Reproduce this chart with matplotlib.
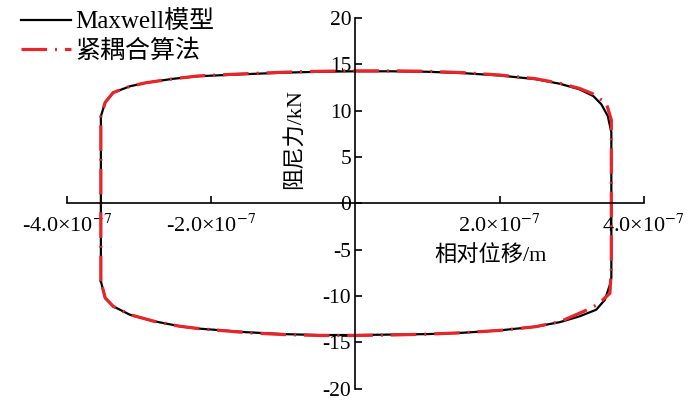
import matplotlib
matplotlib.use('Agg')
import matplotlib.pyplot as plt
import numpy as np

plt.rcParams['font.family'] = ['Liberation Serif', 'Noto Sans CJK SC']
plt.rcParams['mathtext.fontset'] = 'stix'
plt.rcParams['axes.unicode_minus'] = False

# 数据 (位移单位 1e-7 m, 力 kN), 沿滞回环顺时针读取
disp_maxwell = [-3.53, -3.53, -3.53, -3.47, -3.36, -3.12, -2.90, -2.53, -2.18,
                -1.5, -1.0, -0.5, 0.0, 0.5, 1.0, 1.5, 2.0, 2.5,
                2.84, 3.11, 3.30, 3.41, 3.50, 3.55, 3.55, 3.55,
                3.53, 3.46, 3.34, 3.11, 2.84, 2.5, 2.0, 1.5, 1.0, 0.5, 0.0,
                -0.5, -1.0, -1.5, -2.18, -2.43, -2.80, -3.13, -3.36, -3.47, -3.53]
force_maxwell = [-8.4, 0.0, 9.4, 10.9, 11.95, 12.65, 13.02, 13.44, 13.72,
                 13.95, 14.1, 14.2, 14.25, 14.25, 14.2, 14.05, 13.8, 13.4,
                 12.9, 12.3, 11.58, 10.7, 9.44, 7.67, 0.0, -8.0,
                 -8.78, -10.4, -11.47, -12.18, -12.8, -13.3, -13.7, -13.95, -14.1, -14.15, -14.2,
                 -14.2, -14.1, -13.9, -13.5, -13.26, -12.7, -12.0, -11.1, -10.2, -8.4]

disp_coupled = [-3.53, -3.53, -3.53, -3.47, -3.36, -3.12, -2.90, -2.53, -2.18,
                -1.5, -1.0, -0.5, 0.0, 0.5, 1.0, 1.5, 2.0, 2.5,
                2.84, 3.11, 3.30, 3.48, 3.55, 3.55, 3.55,
                3.53, 3.36, 3.18, 2.84, 2.5, 2.0, 1.5, 1.0, 0.5, 0.0,
                -0.5, -1.0, -1.5, -2.18, -2.43, -2.80, -3.13, -3.36, -3.47, -3.53]
force_coupled = [-8.4, 0.0, 9.4, 10.9, 11.95, 12.65, 13.02, 13.44, 13.75,
                 14.0, 14.15, 14.25, 14.3, 14.3, 14.25, 14.1, 13.85, 13.45,
                 12.95, 12.4, 11.8, 10.8, 9.0, 0.0, -7.0,
                 -9.7, -10.9, -11.6, -12.75, -13.3, -13.7, -13.95, -14.1, -14.2, -14.25,
                 -14.25, -14.15, -13.95, -13.5, -13.26, -12.7, -12.0, -11.1, -10.2, -8.4]

xticks = [-4e-7, -2e-7, 2e-7, 4e-7]
xtick_labels = ['-4.0×10$^{-7}$', '-2.0×10$^{-7}$', '2.0×10$^{-7}$', '4.0×10$^{-7}$']
yticks = [-20, -15, -10, -5, 0, 5, 10, 15, 20]

fig = plt.figure(figsize=(7, 4), dpi=100)
ax = fig.add_axes([0.0957, 0.028, 0.824, 0.927])

ax.plot(np.array(disp_maxwell) * 1e-7, force_maxwell, color='black', lw=1.6,
        label='Maxwell模型')
ax.plot(np.array(disp_coupled) * 1e-7, force_coupled, color='#e8262a', lw=2.3,
        linestyle=(0, (8, 2.5, 0.6, 2.5)), label='紧耦合算法')

ax.set_xlim(-4e-7, 4e-7)
ax.set_ylim(-20, 20)

ax.spines['left'].set_position('zero')
ax.spines['bottom'].set_position('zero')
ax.spines['right'].set_visible(False)
ax.spines['top'].set_visible(False)
for s in ['left', 'bottom']:
    ax.spines[s].set_linewidth(1.2)

ax.set_xticks(xticks, xtick_labels)
ax.set_yticks(yticks)
ax.tick_params(axis='x', direction='in', length=5, width=1.2, pad=8, labelsize=16)
ax.tick_params(axis='y', direction='in', length=5, width=1.2, pad=3, labelsize=15.5)

ax.text(1.88e-7, -5.67, '相对位移/m', ha='center', va='center', fontsize=16)
ax.text(-0.84e-7, 6.95, '阻尼力/kN', ha='center', va='center', rotation=90, fontsize=16)

ax.legend(loc='upper left', bbox_to_anchor=(0.008, 1.01), bbox_transform=fig.transFigure,
          frameon=False, fontsize=18, handlelength=2.0, handletextpad=0.2,
          labelspacing=0.2, borderpad=0.1)

fig.savefig('out.png', dpi=100)
